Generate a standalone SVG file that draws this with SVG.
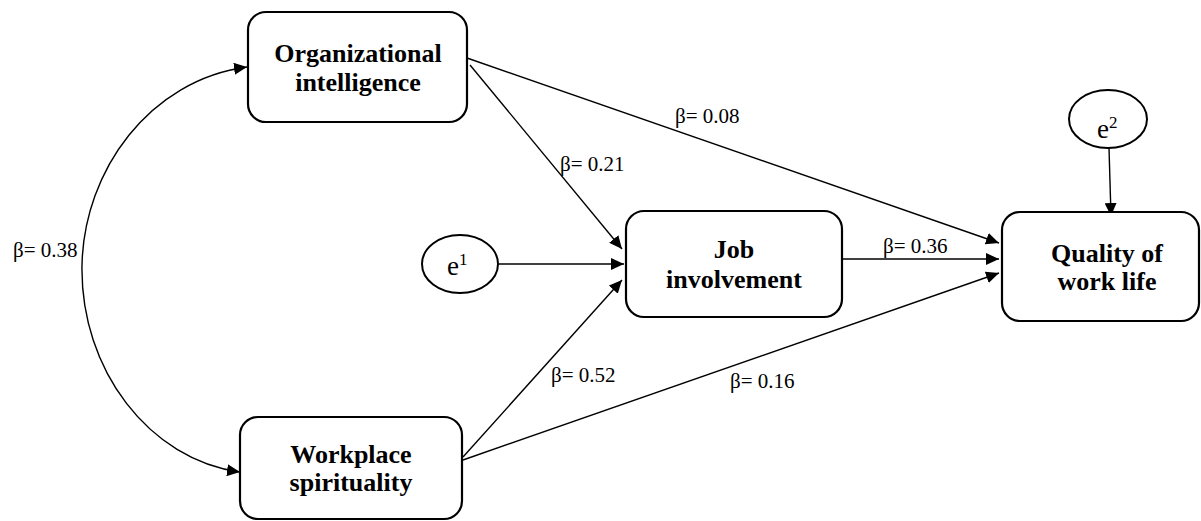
<svg xmlns="http://www.w3.org/2000/svg" width="1201" height="521" viewBox="0 0 1201 521">
<style>
.box{fill:#fff;stroke:#000;stroke-width:2.2}
.ell{fill:#fff;stroke:#000;stroke-width:2}
.nt{font-family:"Liberation Serif","Times New Roman",serif;font-weight:bold;font-size:26px;text-anchor:middle;fill:#000}
.lb{font-family:"Liberation Serif","Times New Roman",serif;font-size:21px;fill:#000}
.et{font-family:"Liberation Serif","Times New Roman",serif;font-size:27px;fill:#000}
.sup{font-size:17px}
.ln{fill:none;stroke:#000;stroke-width:1.4}
</style>
<defs>
<marker id="ah" markerUnits="userSpaceOnUse" markerWidth="14" markerHeight="12" refX="13" refY="6" orient="auto-start-reverse">
<path d="M0,0 L13,6 L0,12 z" fill="#000"/>
</marker>
</defs>
<rect width="1201" height="521" fill="#fff"/>
<g id="connectors">
<path class="ln" d="M240 472 C150 460 80 370 82 265 C84 170 150 80 247 67" marker-start="url(#ah)" marker-end="url(#ah)"/>
<line class="ln" x1="467" y1="58" x2="999" y2="243" marker-end="url(#ah)"/>
<line class="ln" x1="470" y1="65" x2="622" y2="249" marker-end="url(#ah)"/>
<line class="ln" x1="843" y1="259" x2="999" y2="259" marker-end="url(#ah)"/>
<line class="ln" x1="463" y1="457" x2="622" y2="280" marker-end="url(#ah)"/>
<line class="ln" x1="463" y1="460" x2="999" y2="273" marker-end="url(#ah)"/>
<line class="ln" x1="498" y1="264" x2="624" y2="264" marker-end="url(#ah)"/>
<line class="ln" x1="1109" y1="148" x2="1111" y2="216" marker-end="url(#ah)"/>
<text class="lb" x="13" y="257">β= 0.38</text>
<text class="lb" x="560" y="171">β= 0.21</text>
<text class="lb" x="675" y="123">β= 0.08</text>
<text class="lb" x="883" y="253">β= 0.36</text>
<text class="lb" x="551" y="382">β= 0.52</text>
<text class="lb" x="730" y="388">β= 0.16</text>
</g>
<g id="org">
<rect class="box" x="248" y="12" width="219" height="110" rx="18"/>
<text class="nt" x="358" y="62">Organizational</text>
<text class="nt" x="358" y="91">intelligence</text>
</g>
<g id="ws">
<rect class="box" x="240" y="417" width="222" height="102" rx="18"/>
<text class="nt" x="351" y="463">Workplace</text>
<text class="nt" x="351" y="491">spirituality</text>
</g>
<g id="job">
<rect class="box" x="626" y="211" width="216" height="106" rx="18"/>
<text class="nt" x="734" y="258">Job</text>
<text class="nt" x="734" y="288">involvement</text>
</g>
<g id="qwl">
<rect class="box" x="1002" y="212" width="197" height="109" rx="18"/>
<text class="nt" x="1107" y="262">Quality of</text>
<text class="nt" x="1107" y="290">work life</text>
</g>
<g id="e1">
<ellipse class="ell" cx="460" cy="264" rx="38" ry="29"/>
<text class="et" x="447" y="275">e<tspan class="sup" dy="-10">1</tspan></text>
</g>
<g id="e2">
<ellipse class="ell" cx="1108" cy="119" rx="39" ry="29"/>
<text class="et" x="1097" y="138">e<tspan class="sup" dy="-10">2</tspan></text>
</g>
</svg>
